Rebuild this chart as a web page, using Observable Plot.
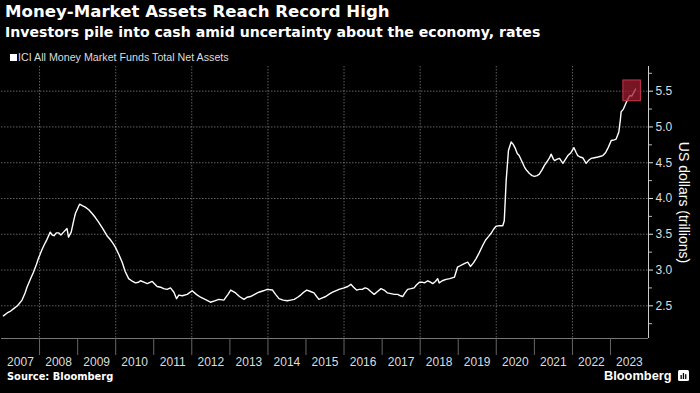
<!DOCTYPE html>
<html><head><meta charset="utf-8">
<script src="https://cdn.jsdelivr.net/npm/d3@7"></script>
<script src="https://cdn.jsdelivr.net/npm/@observablehq/plot@0.6"></script>
<style>
html,body{margin:0;padding:0;background:#000;}
body{position:relative;width:700px;height:393px;overflow:hidden;font-family:"Liberation Sans",Arial,sans-serif;color:#fff;}
.abs{position:absolute;white-space:nowrap;line-height:1;}
#title{left:5px;top:4px;font-family:"DejaVu Sans",sans-serif;font-size:16.6px;font-weight:bold;}
#subtitle{left:5px;top:25px;font-family:"DejaVu Sans",sans-serif;font-size:14.1px;font-weight:bold;}
#legend{left:10px;top:52px;font-size:10.7px;color:#ddd;}
#legend .sw{display:inline-block;width:7px;height:7px;background:#fff;margin-right:1px;vertical-align:0px;}
#chart{position:absolute;left:0;top:62px;}
#source{left:7px;top:372px;font-family:"DejaVu Sans",sans-serif;font-size:9.9px;font-weight:bold;}
#logo{left:604px;top:370px;font-size:12.8px;font-weight:bold;}
#icon{position:absolute;left:678px;top:370px;}
</style>
</head><body>
<div id="title" class="abs">Money-Market Assets Reach Record High</div>
<div id="subtitle" class="abs">Investors pile into cash amid uncertainty about the economy, rates</div>
<div id="legend" class="abs"><span class="sw"></span>ICI All Money Market Funds Total Net Assets</div>
<div id="chart"></div>
<div id="source" class="abs">Source: Bloomberg</div>
<div id="logo" class="abs">Bloomberg</div>
<svg id="icon" width="11" height="11" viewBox="0 0 11 11"><rect x="0" y="0" width="11" height="11" rx="1.5" fill="#fff"/><rect x="2.5" y="5" width="1.3" height="4" fill="#000"/><rect x="4.8" y="3" width="1.3" height="6" fill="#000"/><rect x="7.1" y="4.2" width="1.3" height="4.8" fill="#000"/></svg>
<script>
// decimal years and total net assets (US$ trillions)
const dates = [2007.05,2007.15,2007.25,2007.32,2007.42,2007.54,2007.62,2007.67,2007.75,2007.84,2007.92,2007.97,
2008.06,2008.12,2008.18,2008.28,2008.33,2008.38,2008.44,2008.5,2008.56,2008.63,2008.72,2008.76,2008.83,2008.9,2008.94,
2009.05,2009.12,2009.2,2009.3,2009.38,2009.47,2009.55,2009.66,2009.77,2009.85,2009.92,2009.99,
2010.08,2010.17,2010.25,2010.34,2010.42,2010.52,2010.6,2010.65,2010.74,2010.83,2010.96,
2011.09,2011.18,2011.26,2011.35,2011.44,2011.53,2011.6,2011.66,2011.75,2011.88,
2012.01,2012.12,2012.23,2012.35,2012.49,2012.6,2012.71,2012.84,2012.95,
2013.02,2013.15,2013.25,2013.37,2013.45,2013.54,2013.65,2013.76,2013.88,2013.98,
2014.12,2014.2,2014.29,2014.4,2014.51,2014.6,2014.69,2014.78,2014.86,2014.94,
2015.02,2015.12,2015.21,2015.28,2015.34,2015.43,2015.52,2015.6,2015.7,2015.78,2015.87,
2016.0,2016.1,2016.18,2016.25,2016.33,2016.4,2016.48,2016.55,2016.62,2016.7,2016.79,2016.88,2016.97,
2017.05,2017.14,2017.23,2017.32,2017.41,2017.48,2017.54,2017.6,2017.67,2017.76,2017.84,2017.9,2017.98,
2018.05,2018.11,2018.2,2018.27,2018.33,2018.4,2018.46,2018.5,2018.58,2018.68,2018.78,2018.9,2018.98,
2019.05,2019.12,2019.2,2019.25,2019.32,2019.4,2019.47,2019.55,2019.64,2019.72,2019.8,2019.86,2019.93,2019.99,
2020.08,2020.17,2020.21,2020.26,2020.32,2020.39,2020.44,2020.5,2020.55,2020.6,2020.67,2020.74,2020.8,2020.87,2020.94,
2021.0,2021.07,2021.13,2021.2,2021.26,2021.35,2021.4,2021.44,2021.5,2021.53,2021.6,2021.66,2021.75,2021.82,2021.88,2021.96,
2022.04,2022.1,2022.14,2022.2,2022.27,2022.36,2022.42,2022.49,2022.58,2022.67,2022.74,2022.8,2022.87,2022.93,2022.98,
2023.02,2023.1,2023.15,2023.22,2023.26,2023.28,2023.34,2023.42,2023.47,2023.51,2023.56,2023.6,2023.66];
const values = [2.36,2.40,2.43,2.46,2.50,2.58,2.68,2.76,2.86,2.97,3.08,3.16,
3.28,3.35,3.41,3.53,3.49,3.48,3.52,3.52,3.49,3.53,3.58,3.46,3.53,3.70,3.79,
3.92,3.90,3.88,3.84,3.79,3.73,3.67,3.58,3.48,3.43,3.38,3.32,
3.22,3.11,2.98,2.88,2.85,2.82,2.83,2.85,2.83,2.81,2.84,
2.77,2.76,2.74,2.73,2.75,2.69,2.60,2.65,2.64,2.66,
2.71,2.66,2.62,2.59,2.55,2.57,2.59,2.58,2.66,
2.72,2.68,2.63,2.59,2.62,2.63,2.66,2.69,2.71,2.73,
2.72,2.66,2.60,2.58,2.57,2.58,2.59,2.62,2.65,2.69,
2.72,2.70,2.68,2.63,2.59,2.61,2.63,2.66,2.69,2.71,2.73,
2.75,2.77,2.80,2.76,2.72,2.73,2.73,2.75,2.74,2.70,2.66,2.70,2.74,
2.72,2.68,2.67,2.66,2.66,2.64,2.63,2.68,2.73,2.74,2.75,2.79,2.83,
2.83,2.82,2.85,2.83,2.81,2.84,2.88,2.82,2.85,2.87,2.88,2.90,3.04,
3.06,3.08,3.10,3.11,3.05,3.10,3.16,3.24,3.34,3.42,3.47,3.51,3.57,3.61,
3.62,3.62,3.69,4.25,4.67,4.79,4.76,4.70,4.63,4.60,4.52,4.44,4.39,4.35,4.32,
4.31,4.32,4.34,4.40,4.46,4.53,4.57,4.62,4.55,4.53,4.55,4.56,4.49,4.55,4.60,4.64,
4.71,4.64,4.60,4.58,4.57,4.49,4.53,4.56,4.57,4.58,4.59,4.60,4.64,4.70,4.76,
4.81,4.82,4.83,4.93,5.10,5.21,5.25,5.35,5.40,5.44,5.43,5.47,5.53];
const yTicks = [2.5,3.0,3.5,4.0,4.5,5.0,5.5];
const yMinorTicks = [2.25,2.75,3.25,3.75,4.25,4.75,5.25,5.75];
const tickYears = [2007,2008,2009,2010,2011,2012,2013,2014,2015,2016,2017,2018,2019,2020,2021,2022,2023];
const gridYears = [2008,2010,2012,2014,2016,2018,2020,2022];
const highlightX = [2023.34, 2023.80];
const highlightY = [5.36, 5.65];

const toDate = t => { const y = Math.floor(t); const s = Date.UTC(y,0,1), e = Date.UTC(y+1,0,1); return new Date(s + (t - y) * (e - s)); };
const data = dates.map((t, i) => ({date: toDate(t), value: values[i]}));
const xStart = new Date(Date.UTC(2007,0,1)), xEnd = new Date(Date.UTC(2024,0,1));
const yMin = 2.043, yMax = 5.845;
const yearStarts = tickYears.slice(1).map(y => new Date(Date.UTC(y,0,1)));
const yearMids = tickYears.map(y => new Date(Date.UTC(y,6,2)));
const grid = gridYears.map(y => new Date(Date.UTC(y,0,1)));
const box = [{x1: toDate(highlightX[0]), x2: toDate(highlightX[1]), y1: highlightY[0], y2: highlightY[1]}];

const chart = Plot.plot({
  width: 700, height: 306,
  marginTop: 4, marginBottom: 30, marginLeft: 1, marginRight: 52,
  style: {background: "transparent", color: "#ddd", fontFamily: "Liberation Sans, Arial, sans-serif", fontSize: "12px"},
  x: {type: "utc", domain: [xStart, xEnd]},
  y: {domain: [yMin, yMax]},
  marks: [
    Plot.gridY(yTicks, {stroke: "#777", strokeOpacity: 0.8, strokeDasharray: "1.5,1.5"}),
    Plot.gridX(grid, {stroke: "#777", strokeOpacity: 0.8, strokeDasharray: "1.5,1.5"}),
    Plot.ruleY([yMin], {stroke: "#777"}),
    Plot.ruleX([xEnd], {stroke: "#ccc"}),
    Plot.axisY(yTicks, {anchor: "right", tickSize: 4, tickPadding: 3, tickFormat: d3.format(".1f"), label: null, color: "#ddd", fontSize: 12}),
    Plot.axisY(yMinorTicks, {anchor: "right", tickSize: 3, tickFormat: () => "", label: null, color: "#bbb"}),
    Plot.axisX(yearMids, {anchor: "bottom", tickSize: 0, tickPadding: 19, tickFormat: d => String(d.getUTCFullYear()), label: null, color: "#ddd", fontSize: 12}),
    Plot.axisX(yearStarts, {anchor: "bottom", tickSize: 17, tickFormat: () => "", label: null, color: "#666"}),
    Plot.line(data, {x: "date", y: "value", stroke: "#fff", strokeWidth: 1.4}),
    Plot.rect(box, {x1: "x1", x2: "x2", y1: "y1", y2: "y2", fill: "#a01c32", fillOpacity: 0.75, stroke: "#c8364d", strokeWidth: 1}),
    Plot.text(["US dollars (trillions)"], {frameAnchor: "right", dx: 35, rotate: 90, textAnchor: "middle", fill: "#fff", fontSize: 14})
  ]
});
document.getElementById("chart").appendChild(chart);
</script>
</body></html>
